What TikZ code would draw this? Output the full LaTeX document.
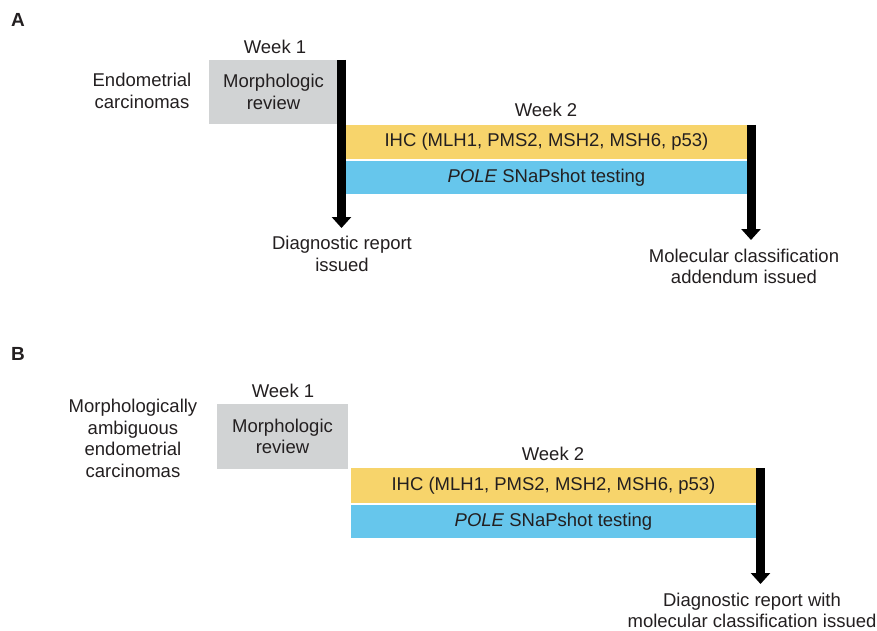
\documentclass[tikz,border=0pt]{standalone}
\usepackage{fontspec}
\setmainfont{Liberation Sans}
\usetikzlibrary{arrows.meta,positioning}
\definecolor{txt}{HTML}{231F20}
\definecolor{morphgray}{HTML}{D1D3D4}
\definecolor{ihcyellow}{HTML}{F7D46B}
\definecolor{poleblue}{HTML}{66C6EC}
\tikzset{
  lbl/.style={text=txt, align=center, inner sep=0pt, font=\fontsize{18.5}{21.5}\selectfont},
  panel/.style={text=txt, inner sep=0pt, font=\fontsize{19}{22}\selectfont\bfseries},
  stagebox/.style={lbl, rectangle, minimum width=#1},
  bar/.style={line width=9pt, draw=black, -{Triangle[width=19pt,length=11pt]}},
}
\begin{document}
\begin{tikzpicture}[x=1pt, y=-1pt]
\useasboundingbox (0,0) rectangle (877,631);
% panel A
\node[panel] (labA) at (18,20) {A};
\node[lbl] (specA) at (142,91) {Endometrial\\carcinomas};
\node[lbl] (wk1A) at (275,47) {Week 1};
\node[stagebox=129pt, minimum height=64pt, fill=morphgray] (morphA) at (273.5,92) {Morphologic\\review};
\node[lbl] (wk2A) at (546,110) {Week 2};
\node[stagebox=403pt, minimum height=34pt, fill=ihcyellow] (ihcA) at (546.5,142) {IHC (MLH1, PMS2, MSH2, MSH6, p53)};
\node[stagebox=403pt, minimum height=33pt, fill=poleblue] (poleA) at (546.5,177.5) {\textit{POLE} SNaPshot testing};
\node[lbl] (diagA) at (342,254) {Diagnostic report\\issued};
\node[lbl] (addA) at (744,266.5) {Molecular classification\\addendum issued};
\coordinate (barA1top) at (341.5,60);
\coordinate (barA1end) at (341.5,228);
\coordinate (barA2top) at (751,125);
\coordinate (barA2end) at (751,240);
\draw[bar] (barA1top) -- (barA1end);
\draw[bar] (barA2top) -- (barA2end);
% panel B
\node[panel] (labB) at (18,354) {B};
\node[lbl] (specB) at (133,438.5) {Morphologically\\ambiguous\\endometrial\\carcinomas};
\node[lbl] (wk1B) at (283,391) {Week 1};
\node[stagebox=131pt, minimum height=65pt, fill=morphgray] (morphB) at (282.5,436.5) {Morphologic\\review};
\node[lbl] (wk2B) at (553,454) {Week 2};
\node[stagebox=405pt, minimum height=35pt, fill=ihcyellow] (ihcB) at (553.5,485.5) {IHC (MLH1, PMS2, MSH2, MSH6, p53)};
\node[stagebox=405pt, minimum height=33pt, fill=poleblue] (poleB) at (553.5,521.5) {\textit{POLE} SNaPshot testing};
\node[lbl] (diagB) at (752,610.5) {Diagnostic report with\\molecular classification issued};
\coordinate (barBtop) at (760.5,468);
\coordinate (barBend) at (760.5,584);
\draw[bar] (barBtop) -- (barBend);
\end{tikzpicture}
\end{document}
